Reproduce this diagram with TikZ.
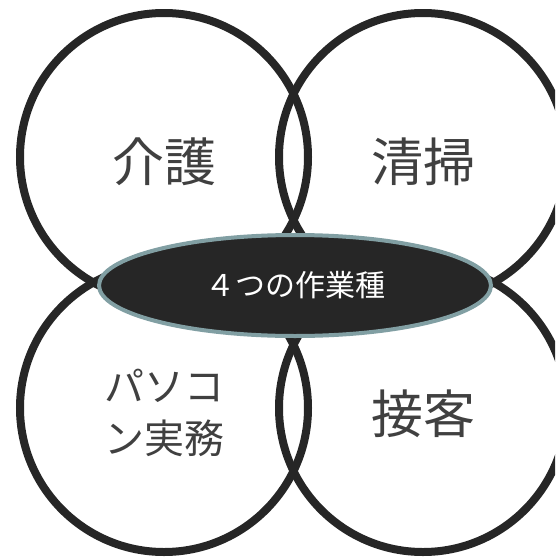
\documentclass[tikz,border=0pt]{standalone}
\usepackage{fontspec}
\newfontfamily\jp{Noto Sans CJK JP}
\usetikzlibrary{shapes.geometric}
\definecolor{ringcol}{HTML}{262626}
\definecolor{labelcol}{HTML}{404040}
\definecolor{rimcol}{HTML}{819FA3}
\tikzset{
  ring/.style={circle, draw=ringcol, line width=8pt, minimum size=288pt, inner sep=0pt, outer sep=0pt},
  biglabel/.style={text=labelcol, font=\jp\fontsize{52}{54}\selectfont, inner sep=0pt, align=center},
  smalllabel/.style={text=labelcol, font=\jp\fontsize{40}{52}\selectfont, inner sep=0pt, align=center},
  hub/.style={ellipse, draw=rimcol, fill=ringcol, line width=4pt, minimum width=392pt, minimum height=101pt, inner sep=0pt, text=white, font=\jp\fontsize{30}{32}\selectfont}
}
\begin{document}
\begin{tikzpicture}[x=1pt,y=-1pt]
\useasboundingbox (0,0) rectangle (555,557);
\clip (0,0) rectangle (555,557);
\node[ring] (c1) at (164,157) {};
\node[ring] (c2) at (423,157) {};
\node[ring] (c3) at (164,408) {};
\node[ring] (c4) at (423,408) {};
\node[biglabel] (t1) at (164,162) {介護};
\node[biglabel] (t2) at (423,162) {清掃};
\node[smalllabel] (t3) at (164,413) {パソコ\\ン実務};
\node[biglabel] (t4) at (423,414) {接客};
\node[hub] (hub) at (295,285.5) {４つの作業種};
\end{tikzpicture}
\end{document}
